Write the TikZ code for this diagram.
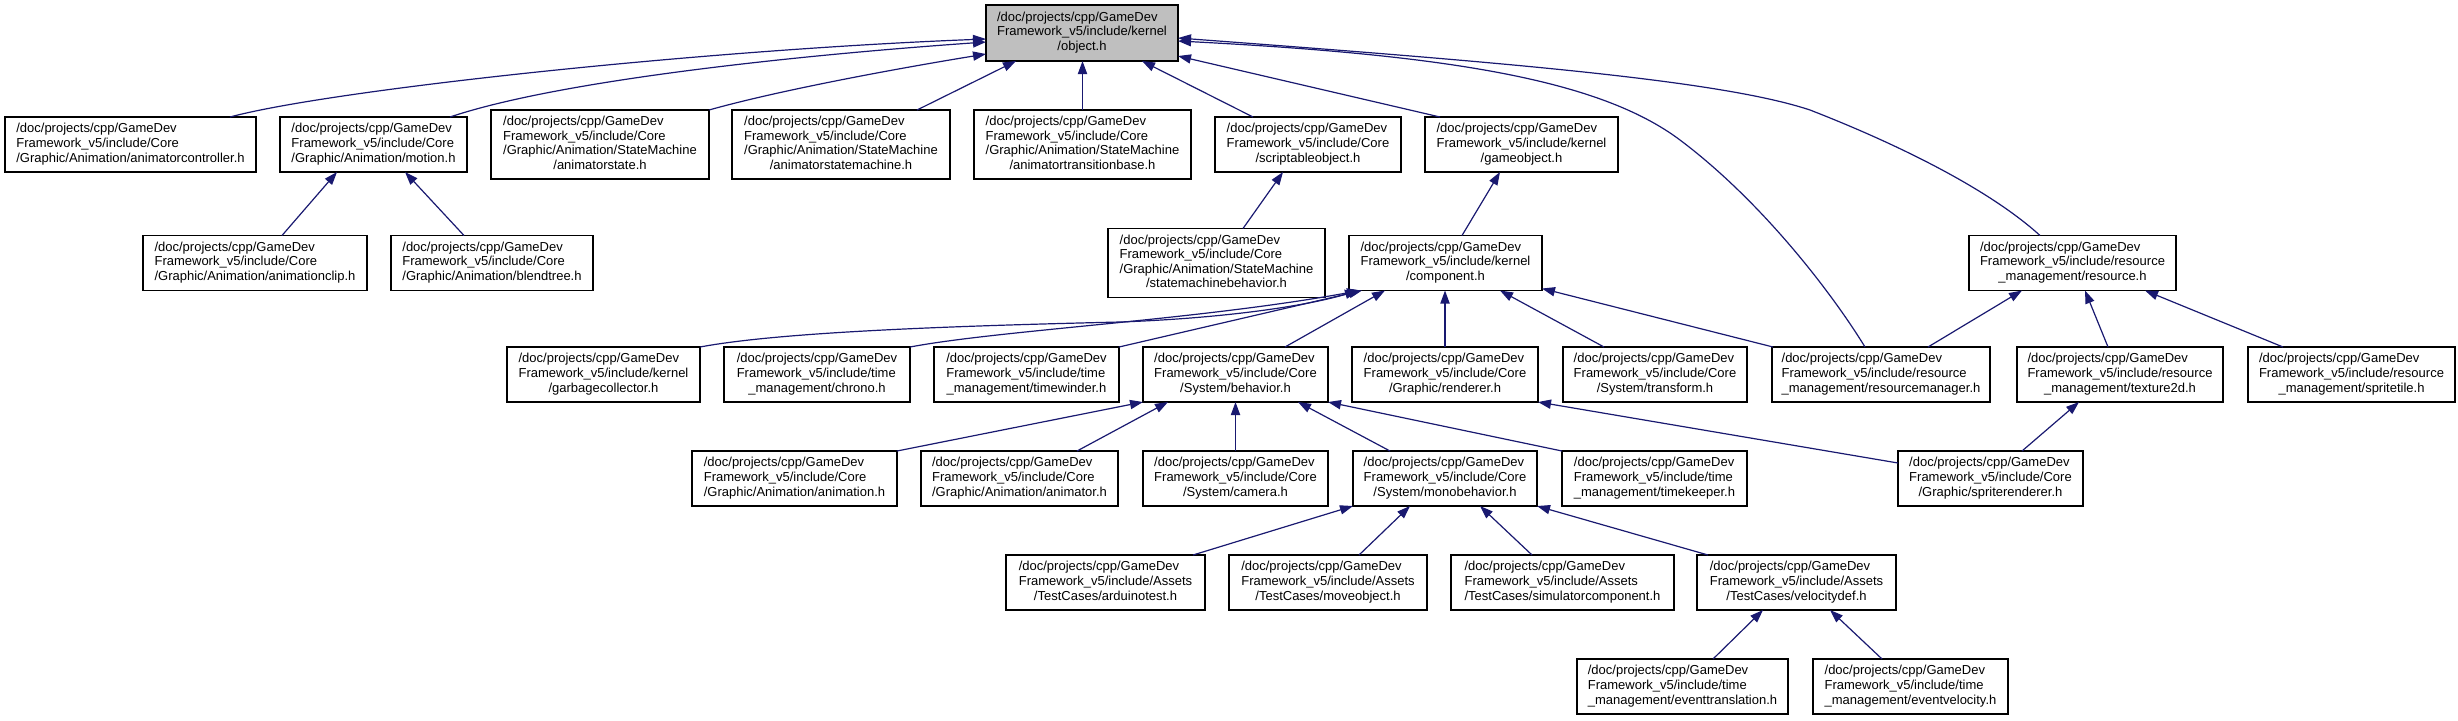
\documentclass[tikz,border=0pt]{standalone}
\usepackage{fontspec}
\newfontfamily\nodefont{Liberation Sans}
\usetikzlibrary{arrows.meta,calc}
\definecolor{edgeblue}{HTML}{191970}
\definecolor{objgray}{HTML}{BFBFBF}
\newcommand{\dx}[1]{\begin{tabular}{@{}l@{}}#1\end{tabular}}
\newcommand{\cl}[1]{\multicolumn{1}{@{}c@{}}{#1}}
\begin{document}
\begin{tikzpicture}[x=0.5pt,y=-0.5pt,
 box/.style={draw=black, line width=0.75pt, fill=white, inner sep=0pt, outer sep=0pt,
   minimum height=27.5pt, font=\nodefont\fontsize{6.5}{7.3}\selectfont},
 tall/.style={minimum height=34.5pt},
 edge/.style={draw=edgeblue, line width=0.6pt, {Triangle[length=6.5pt,width=4.6pt]}-}]
\useasboundingbox (0,0) rectangle (2458,720);

% rank 0
\node[box, minimum width=96pt, minimum height=28pt, fill=objgray] (obj) at (1082,33)
  {\dx{/doc/projects/cpp/GameDev\\Framework\_v5/include/kernel\\\cl{/object.h}}};
% rank 1
\node[box, minimum width=125.5pt] (acon) at (130.5,144.5)
  {\dx{/doc/projects/cpp/GameDev\\Framework\_v5/include/Core\\\cl{/Graphic/Animation/animatorcontroller.h}}};
\node[box, minimum width=93.5pt] (motion) at (373.5,144.5)
  {\dx{/doc/projects/cpp/GameDev\\Framework\_v5/include/Core\\\cl{/Graphic/Animation/motion.h}}};
\node[box, tall, minimum width=109pt] (astate) at (600,144.5)
  {\dx{/doc/projects/cpp/GameDev\\Framework\_v5/include/Core\\/Graphic/Animation/StateMachine\\\cl{/animatorstate.h}}};
\node[box, tall, minimum width=109pt] (asm) at (841,144.5)
  {\dx{/doc/projects/cpp/GameDev\\Framework\_v5/include/Core\\/Graphic/Animation/StateMachine\\\cl{/animatorstatemachine.h}}};
\node[box, tall, minimum width=108.5pt] (atb) at (1082.5,144.5)
  {\dx{/doc/projects/cpp/GameDev\\Framework\_v5/include/Core\\/Graphic/Animation/StateMachine\\\cl{/animatortransitionbase.h}}};
\node[box, minimum width=93pt] (sobj) at (1308,144.5)
  {\dx{/doc/projects/cpp/GameDev\\Framework\_v5/include/Core\\\cl{/scriptableobject.h}}};
\node[box, minimum width=96.5pt] (gobj) at (1521.5,144.5)
  {\dx{/doc/projects/cpp/GameDev\\Framework\_v5/include/kernel\\\cl{/gameobject.h}}};
% rank 2
\node[box, minimum width=112pt] (aclip) at (255,263)
  {\dx{/doc/projects/cpp/GameDev\\Framework\_v5/include/Core\\\cl{/Graphic/Animation/animationclip.h}}};
\node[box, minimum width=101pt] (btree) at (492,263)
  {\dx{/doc/projects/cpp/GameDev\\Framework\_v5/include/Core\\\cl{/Graphic/Animation/blendtree.h}}};
\node[box, tall, minimum width=108.5pt] (smb) at (1216.5,263)
  {\dx{/doc/projects/cpp/GameDev\\Framework\_v5/include/Core\\/Graphic/Animation/StateMachine\\\cl{/statemachinebehavior.h}}};
\node[box, minimum width=96.5pt] (comp) at (1445.5,263)
  {\dx{/doc/projects/cpp/GameDev\\Framework\_v5/include/kernel\\\cl{/component.h}}};
\node[box, minimum width=103.5pt] (res) at (2072.5,263)
  {\dx{/doc/projects/cpp/GameDev\\Framework\_v5/include/resource\\\cl{\_management/resource.h}}};
% rank 3
\node[box, minimum width=96.5pt] (gc) at (603.5,374.5)
  {\dx{/doc/projects/cpp/GameDev\\Framework\_v5/include/kernel\\\cl{/garbagecollector.h}}};
\node[box, minimum width=93pt] (chrono) at (817,374.5)
  {\dx{/doc/projects/cpp/GameDev\\Framework\_v5/include/time\\\cl{\_management/chrono.h}}};
\node[box, minimum width=92.5pt] (twind) at (1026.5,374.5)
  {\dx{/doc/projects/cpp/GameDev\\Framework\_v5/include/time\\\cl{\_management/timewinder.h}}};
\node[box, minimum width=92.5pt] (beh) at (1235.5,374.5)
  {\dx{/doc/projects/cpp/GameDev\\Framework\_v5/include/Core\\\cl{/System/behavior.h}}};
\node[box, minimum width=93pt] (rend) at (1445,374.5)
  {\dx{/doc/projects/cpp/GameDev\\Framework\_v5/include/Core\\\cl{/Graphic/renderer.h}}};
\node[box, minimum width=92pt] (trans) at (1655,374.5)
  {\dx{/doc/projects/cpp/GameDev\\Framework\_v5/include/Core\\\cl{/System/transform.h}}};
\node[box, minimum width=109pt] (rman) at (1881,374.5)
  {\dx{/doc/projects/cpp/GameDev\\Framework\_v5/include/resource\\\cl{\_management/resourcemanager.h}}};
\node[box, minimum width=103pt] (tex) at (2120,374.5)
  {\dx{/doc/projects/cpp/GameDev\\Framework\_v5/include/resource\\\cl{\_management/texture2d.h}}};
\node[box, minimum width=103.5pt] (stile) at (2351.5,374.5)
  {\dx{/doc/projects/cpp/GameDev\\Framework\_v5/include/resource\\\cl{\_management/spritetile.h}}};
% rank 4
\node[box, minimum width=102.5pt] (anim) at (794.5,478.5)
  {\dx{/doc/projects/cpp/GameDev\\Framework\_v5/include/Core\\\cl{/Graphic/Animation/animation.h}}};
\node[box, minimum width=98.5pt] (animr) at (1019.5,478.5)
  {\dx{/doc/projects/cpp/GameDev\\Framework\_v5/include/Core\\\cl{/Graphic/Animation/animator.h}}};
\node[box, minimum width=92.5pt] (cam) at (1235.5,478.5)
  {\dx{/doc/projects/cpp/GameDev\\Framework\_v5/include/Core\\\cl{/System/camera.h}}};
\node[box, minimum width=92pt] (mono) at (1445,478.5)
  {\dx{/doc/projects/cpp/GameDev\\Framework\_v5/include/Core\\\cl{/System/monobehavior.h}}};
\node[box, minimum width=92.5pt] (tkeep) at (1654.5,478.5)
  {\dx{/doc/projects/cpp/GameDev\\Framework\_v5/include/time\\\cl{\_management/timekeeper.h}}};
\node[box, minimum width=92.5pt] (srend) at (1990.5,478.5)
  {\dx{/doc/projects/cpp/GameDev\\Framework\_v5/include/Core\\\cl{/Graphic/spriterenderer.h}}};
% rank 5
\node[box, minimum width=99.5pt] (ard) at (1105.5,582.5)
  {\dx{/doc/projects/cpp/GameDev\\Framework\_v5/include/Assets\\\cl{/TestCases/arduinotest.h}}};
\node[box, minimum width=99pt] (move) at (1328,582.5)
  {\dx{/doc/projects/cpp/GameDev\\Framework\_v5/include/Assets\\\cl{/TestCases/moveobject.h}}};
\node[box, minimum width=111.5pt] (sim) at (1562.5,582.5)
  {\dx{/doc/projects/cpp/GameDev\\Framework\_v5/include/Assets\\\cl{/TestCases/simulatorcomponent.h}}};
\node[box, minimum width=99.5pt] (vdef) at (1796.5,582.5)
  {\dx{/doc/projects/cpp/GameDev\\Framework\_v5/include/Assets\\\cl{/TestCases/velocitydef.h}}};
% rank 6
\node[box, minimum width=105.5pt] (etrans) at (1682.5,686.5)
  {\dx{/doc/projects/cpp/GameDev\\Framework\_v5/include/time\\\cl{\_management/eventtranslation.h}}};
\node[box, minimum width=97.5pt] (evel) at (1910.5,686.5)
  {\dx{/doc/projects/cpp/GameDev\\Framework\_v5/include/time\\\cl{\_management/eventvelocity.h}}};

% edges into object.h
\draw[edge] ($(obj.west)+(0,6)$) .. controls (700,50) and (330,90) .. ($(acon.north)+(99.5,0)$);
\draw[edge] ($(obj.west)+(0,9)$) .. controls (800,55) and (560,80) .. ($(motion.north)+(76.5,0)$);
\draw[edge] ($(obj.west)+(0,21)$) .. controls (900,68) and (780,90) .. (astate.north east);
\draw[edge] ($(obj.south)+(-66,0)$) -- ($(asm.north)+(76,0)$);
\draw[edge] (atb.north |- obj.south) -- (atb.north);
\draw[edge] ($(obj.south)+(60,0)$) -- ($(sobj.north)+(-55,0)$);
\draw[edge] ($(obj.east)+(0,23)$) -- ($(gobj.north)+(-81.5,0)$);
\draw[edge] ($(obj.east)+(0,8)$) .. controls (1450,55) and (1600,80) .. (1680,140)
  .. controls (1760,200) and (1830,290) .. ($(rman.north)+(-16,0)$);
\draw[edge] ($(obj.east)+(0,5)$) .. controls (1500,62) and (1720,80) .. (1810,110)
  .. controls (1900,145) and (1990,190) .. ($(res.north)+(-32.5,0)$);

% motion
\draw[edge] ($(motion.south)+(-36.5,0)$) -- ($(aclip.north)+(27,0)$);
\draw[edge] ($(motion.south)+(31.5,0)$) -- ($(btree.north)+(-28,0)$);
% scriptableobject, gameobject
\draw[edge] ($(sobj.south)+(-25,0)$) -- ($(smb.north)+(26.5,0)$);
\draw[edge] ($(gobj.south)+(-21.5,0)$) -- ($(comp.north)+(16.5,0)$);

% component
\draw[edge] ($(comp.south west)+(9,0)$) .. controls (1310,305) and (1230,318) .. (1120,322)
  .. controls (950,326) and (780,332) .. (gc.north east);
\draw[edge] ($(comp.south west)+(11,0)$) .. controls (1200,320) and (1000,330) .. (chrono.north east);
\draw[edge] ($(comp.south west)+(13,0)$) -- (twind.north east);
\draw[edge] ($(comp.south)+(-60.5,0)$) -- ($(beh.north)+(49.5,0)$);
\draw[edge] (rend.north |- comp.south) -- (rend.north);
\draw[edge] ($(comp.south)+(54.5,0)$) -- ($(trans.north)+(-51,0)$);
\draw[edge] ($(comp.south east)+(0,-2)$) -- ($(rman.north west)+(1,0)$);

% resource
\draw[edge] ($(res.south)+(-50.5,0)$) -- ($(rman.north)+(47,0)$);
\draw[edge] ($(res.south)+(12.5,0)$) -- ($(tex.north)+(-12,0)$);
\draw[edge] ($(res.south)+(72.5,0)$) -- ($(stile.north)+(-68.5,0)$);

% spriterenderer
\draw[edge] ($(tex.south)+(-41,0)$) -- ($(srend.north)+(31.5,0)$);
\draw[edge] (rend.south east) -- ($(srend.west)+(0,-15.5)$);

% behavior
\draw[edge] (beh.south west) -- (anim.north east);
\draw[edge] ($(beh.south)+(-67.5,0)$) -- ($(animr.north)+(57.5,0)$);
\draw[edge] (cam.north |- beh.south) -- (cam.north);
\draw[edge] ($(beh.south)+(62.5,0)$) -- ($(mono.north)+(-55,0)$);
\draw[edge] (beh.south east) -- (tkeep.north west);

% monobehavior
\draw[edge] (mono.south west) -- ($(ard.north)+(87.5,0)$);
\draw[edge] ($(mono.south)+(-35,0)$) -- ($(move.north)+(31,0)$);
\draw[edge] ($(mono.south)+(35,0)$) -- ($(sim.north)+(-30.5,0)$);
\draw[edge] (mono.south east) -- ($(vdef.north)+(-88.5,0)$);

% velocitydef
\draw[edge] ($(vdef.south)+(-33.5,0)$) -- ($(etrans.north)+(30.5,0)$);
\draw[edge] ($(vdef.south)+(33.5,0)$) -- ($(evel.north)+(-28.5,0)$);
\end{tikzpicture}
\end{document}
